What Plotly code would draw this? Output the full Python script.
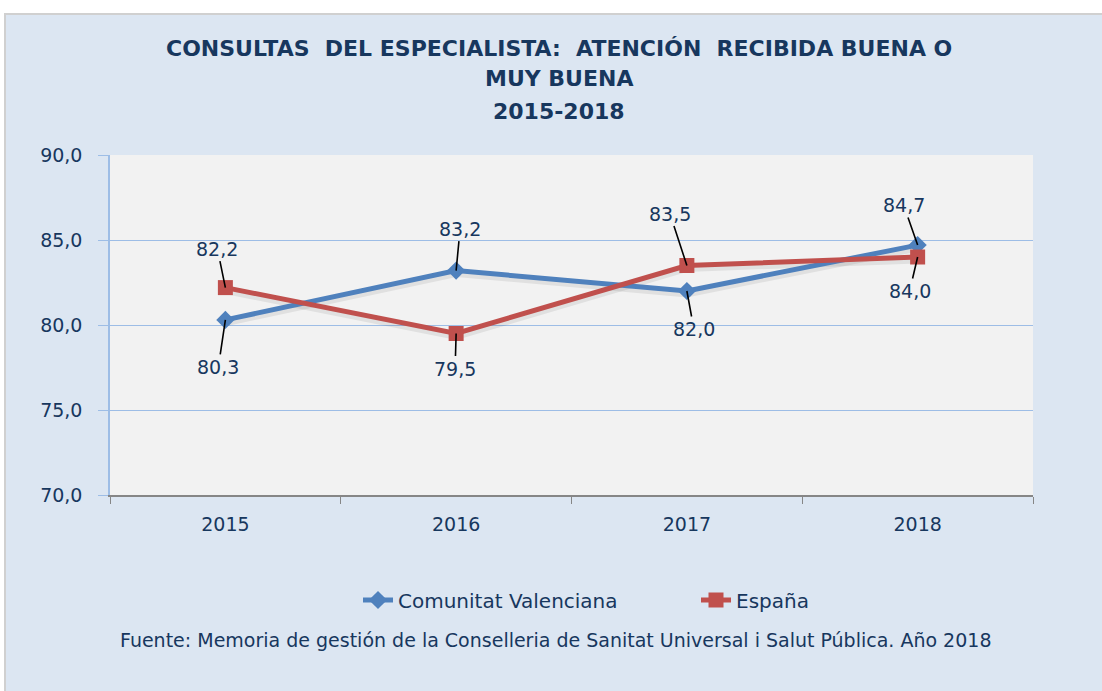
import plotly.graph_objects as go

years = ["2015", "2016", "2017", "2018"]
cv_values = [80.3, 83.2, 82.0, 84.7]
es_values = [82.2, 79.5, 83.5, 84.0]
series_names = ["Comunitat Valenciana", "España"]
y_ticks = [70, 75, 80, 85, 90]
title_lines = ["CONSULTAS  DEL ESPECIALISTA:  ATENCIÓN  RECIBIDA BUENA O", "MUY BUENA", "2015-2018"]
source_text = "Fuente: Memoria de gestión de la Conselleria de Sanitat Universal i Salut Pública. Año 2018"

# label offsets (pixels, text centre relative to point)
cv_label_off = [(-7, 47), (4, -42), (7, 38), (-14, -40)]
es_label_off = [(-8, -39), (-1, 35), (-17, -52), (-8, 34)]

NAVY = "#17375e"
BLUE = "#4f81bd"
RED = "#c0504d"
GRID = "#9dbde6"
FONT = "DejaVu Sans"

W, H = 1102, 691
L, R, T, B = 110, 69, 155, 196
pw, ph = W - L - R, H - T - B

def px_x(p):
    return (p - L) / pw

def px_y(p):
    return (H - B - p) / ph

fig = go.Figure()

# soft shadow lines
for vals in (cv_values, es_values):
    fig.add_trace(go.Scatter(x=years, y=[v - 0.2 for v in vals], mode="lines",
                             line=dict(color="rgba(0,0,0,0.07)", width=6),
                             showlegend=False, hoverinfo="skip"))

fig.add_trace(go.Scatter(x=years, y=cv_values, mode="lines+markers", name=series_names[0],
                         line=dict(color=BLUE, width=5), legend="legend",
                         marker=dict(symbol="diamond", size=14, color=BLUE)))
fig.add_trace(go.Scatter(x=years, y=es_values, mode="lines+markers", name=series_names[1],
                         line=dict(color=RED, width=5), legend="legend2",
                         marker=dict(symbol="square", size=15, color=RED)))

annotations = []
for vals, offs in ((cv_values, cv_label_off), (es_values, es_label_off)):
    for i, (v, (ax, ay)) in enumerate(zip(vals, offs)):
        annotations.append(dict(x=i, y=v, xref="x", yref="y",
                                text=f"{v:.1f}".replace(".", ","),
                                showarrow=True, arrowhead=0, arrowwidth=1.6,
                                arrowcolor="black", ax=ax, ay=ay, standoff=0,
                                font=dict(family=FONT, size=19, color=NAVY)))

for line, py in zip(title_lines, [48, 79, 111]):
    annotations.append(dict(x=px_x(559), y=px_y(py), xref="paper", yref="paper",
                            text=f"<b>{line}</b>", showarrow=False,
                            xanchor="center", yanchor="middle",
                            font=dict(family=FONT, size=22, color=NAVY)))

annotations.append(dict(x=px_x(555), y=px_y(640), xref="paper", yref="paper",
                        text=source_text, showarrow=False, xanchor="center", yanchor="middle",
                        font=dict(family=FONT, size=19, color=NAVY)))

shapes = [
    dict(type="rect", xref="paper", yref="paper", layer="below",
         x0=px_x(5), x1=px_x(1110), y0=px_y(14), y1=px_y(700),
         fillcolor="#dce6f2", line=dict(color="#d0d0d0", width=2)),
    dict(type="rect", xref="paper", yref="paper", layer="below",
         x0=0, x1=1, y0=0, y1=1, fillcolor="#f2f2f2", line=dict(width=0)),
]

legend_common = dict(orientation="h", yanchor="middle", xanchor="left",
                     bgcolor="rgba(0,0,0,0)", font=dict(family=FONT, size=20, color=NAVY))

fig.update_layout(
    width=W, height=H,
    margin=dict(l=L, r=R, t=T, b=B, pad=0),
    paper_bgcolor="white", plot_bgcolor="#f2f2f2",
    separators=",.",
    font=dict(family=FONT, color=NAVY),
    showlegend=True,
    legend=dict(x=px_x(358), y=px_y(600), **legend_common),
    legend2=dict(x=px_x(696), y=px_y(600), **legend_common),
    annotations=annotations,
    shapes=shapes,
    xaxis=dict(type="category", range=[-0.5, 3.5], showgrid=False,
               showline=True, linecolor="#868686", linewidth=1.5,
               ticks="outside", tickson="boundaries", ticklen=7, tickcolor="#868686",
               ticklabelstandoff=11,
               tickfont=dict(family=FONT, size=19, color=NAVY), zeroline=False),
    yaxis=dict(range=[70, 90], tickvals=y_ticks, tickformat=".1f",
               showgrid=True, gridcolor=GRID, gridwidth=1.2,
               showline=True, linecolor=GRID, linewidth=1.5,
               ticks="outside", ticklen=10, tickcolor=GRID,
               ticklabelstandoff=12,
               tickfont=dict(family=FONT, size=19, color=NAVY), zeroline=False),
)

fig.write_html("out.html", config={"displayModeBar": False},
               post_script="document.body.style.margin='0';")
